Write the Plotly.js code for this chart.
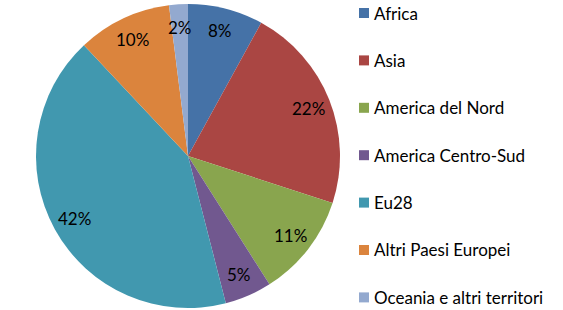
<!DOCTYPE html>
<html>
<head>
<meta charset="utf-8">
<script src="https://cdn.plot.ly/plotly-3.0.1.min.js"></script>
<style>html,body{margin:0;padding:0;background:#fff}#chart{width:563px;height:310px}</style>
</head>
<body>
<div id="chart"></div>
<script>
const categories = ["Africa", "Asia", "America del Nord", "America Centro-Sud", "Eu28", "Altri Paesi Europei", "Oceania e altri territori"];
const values = [8, 22, 11, 5, 42, 10, 2];
const colors = ["#4572A7", "#AA4643", "#89A54E", "#71588F", "#4198AF", "#DB843D", "#93A9CF"];

const W = 563, H = 310;
const cx = 188, cy = 156, R = 152;
const FONT = "Lato, Open Sans, sans-serif";
const FS = 17;

const total = values.reduce((a, b) => a + b, 0);
const annotations = [];
const shapes = [];

// slice labels
let cum = 0;
values.forEach((v, i) => {
  const mid = (cum + v / 2) / total * 2 * Math.PI;
  cum += v;
  const rr = 0.85 * R;
  const px = cx + rr * Math.sin(mid);
  const py = cy - rr * Math.cos(mid);
  annotations.push({
    xref: "paper", yref: "paper",
    x: px / W, y: 1 - py / H,
    text: Math.round(v / total * 100) + "%",
    showarrow: false, xanchor: "center", yanchor: "middle",
    font: {family: FONT, size: FS, color: "#000"}
  });
});

// legend
const legX = 359, legY0 = 13, legDy = 47.4, sq = 10;
categories.forEach((c, i) => {
  const y = legY0 + i * legDy;
  shapes.push({
    type: "rect", xref: "paper", yref: "paper",
    x0: legX / W, x1: (legX + sq) / W,
    y0: 1 - (y + sq / 2) / H, y1: 1 - (y - sq / 2) / H,
    fillcolor: colors[i], line: {width: 0}
  });
  annotations.push({
    xref: "paper", yref: "paper",
    x: (legX + sq + 3) / W, y: 1 - y / H,
    text: c, showarrow: false, xanchor: "left", yanchor: "middle",
    font: {family: FONT, size: FS, color: "#000"}
  });
});

const data = [{
  type: "pie",
  labels: categories,
  values: values,
  sort: false,
  direction: "clockwise",
  rotation: 0,
  marker: {colors: colors, line: {color: "#fff", width: 0}},
  textinfo: "none",
  hoverinfo: "label+percent",
  showlegend: false,
  domain: {x: [(cx - R) / W, (cx + R) / W], y: [(H - cy - R) / H, (H - cy + R) / H]}
}];

const layout = {
  width: W, height: H,
  margin: {l: 0, r: 0, t: 0, b: 0},
  paper_bgcolor: "#fff",
  showlegend: false,
  annotations: annotations,
  shapes: shapes
};

Plotly.newPlot("chart", data, layout, {staticPlot: true});
</script>
</body>
</html>
